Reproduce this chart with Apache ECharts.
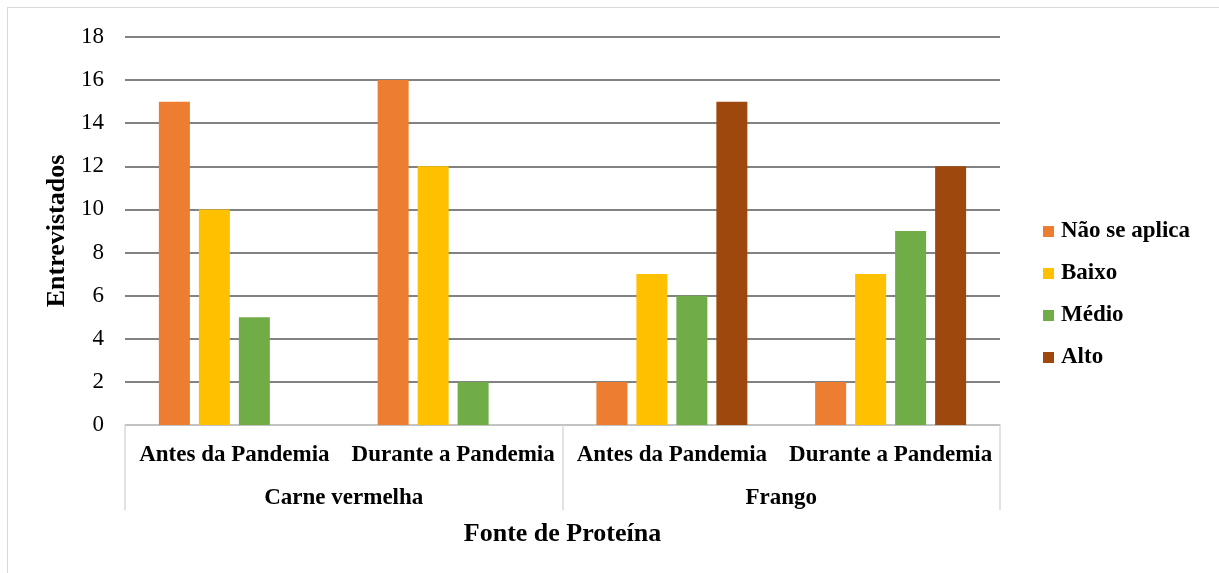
<!DOCTYPE html>
<html>
<head>
<meta charset="utf-8">
<script src="https://cdn.jsdelivr.net/npm/echarts@6/dist/echarts.min.js"></script>
<style>
  html, body { margin: 0; padding: 0; background: #fff; }
  #frame { position: absolute; left: 7px; top: 7px; width: 1230px; height: 580px; border: 1px solid #d9d9d9; }
  #main { position: absolute; left: 0; top: 0; width: 1219px; height: 573px; }
</style>
</head>
<body>
<div id="frame"></div>
<div id="main"></div>
<script>
// categorias
const periods = ['Antes da Pandemia', 'Durante a Pandemia', 'Antes da Pandemia', 'Durante a Pandemia']
const proteins = ['Carne vermelha', 'Frango']
const seriesNames = ['Não se aplica', 'Baixo', 'Médio', 'Alto']
const colors = ['#ED7D31', '#FFC000', '#70AD47', '#9E480E']

// valores (entrevistados)
const naoSeAplica = [15, 16, 2, 2]
const baixo = [10, 12, 7, 7]
const medio = [5, 2, 6, 9]
const alto = ['-', '-', 15, 12]

const allData = [naoSeAplica, baixo, medio, alto]
const font = '"Liberation Serif", "Times New Roman", serif'

var chart = echarts.init(document.getElementById('main'))

chart.setOption({
  animation: false,
  textStyle: { fontFamily: font },
  grid: { left: 125, right: 219, top: 37, bottom: 148 },
  legend: {
    orient: 'vertical',
    left: 1038,
    top: 215,
    itemWidth: 11,
    itemHeight: 11,
    itemGap: 19,
    icon: 'rect',
    textStyle: { fontFamily: font, fontSize: 23, fontWeight: 'bold', color: '#000', padding: [0, 0, 0, 2] },
    data: seriesNames
  },
  xAxis: [
    {
      type: 'category',
      data: periods,
      axisLine: { lineStyle: { color: '#d9d9d9', width: 1.5 } },
      axisTick: { show: false },
      axisLabel: { interval: 0, hideOverlap: false, margin: 19, fontFamily: font, fontSize: 23, fontWeight: 'bold', color: '#000' }
    },
    {
      type: 'category',
      position: 'bottom',
      data: proteins,
      axisLine: { show: false },
      axisTick: { show: true, length: 85, lineStyle: { color: '#d9d9d9', width: 1.5 } },
      axisLabel: { interval: 0, margin: 62, fontFamily: font, fontSize: 23, fontWeight: 'bold', color: '#000' },
      name: 'Fonte de Proteína',
      nameLocation: 'middle',
      nameGap: 96,
      nameTextStyle: { fontFamily: font, fontSize: 26, fontWeight: 'bold', color: '#000' }
    }
  ],
  yAxis: {
    type: 'value',
    min: 0,
    max: 18,
    interval: 2,
    axisLine: { show: false },
    axisTick: { show: false },
    splitLine: { lineStyle: { color: '#595959', width: 1.5 } },
    axisLabel: { margin: 21, fontFamily: font, fontSize: 23, color: '#000' },
    name: 'Entrevistados',
    nameLocation: 'middle',
    nameGap: 51,
    nameTextStyle: { fontFamily: font, fontSize: 26, fontWeight: 'bold', color: '#000' }
  },
  series: seriesNames.map(function (name, i) {
    return {
      name: name,
      type: 'bar',
      xAxisIndex: 0,
      data: allData[i],
      barWidth: 31,
      barGap: '29%',
      itemStyle: { color: colors[i] }
    }
  })
})
</script>
</body>
</html>
